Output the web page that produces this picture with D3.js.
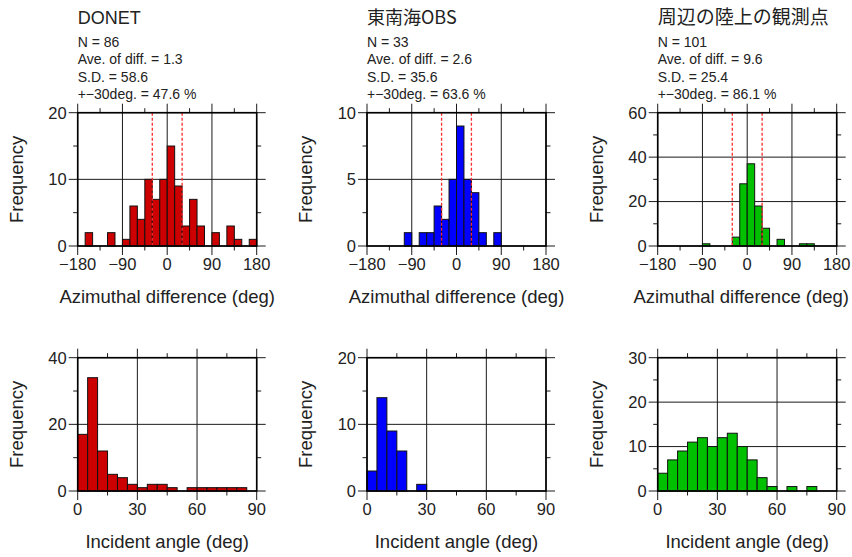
<!DOCTYPE html>
<html><head><meta charset="utf-8">
<script src="https://cdn.jsdelivr.net/npm/d3@7"></script>
<style>
html,body{margin:0;padding:0;background:#fff;}
svg{display:block;font-family:"Liberation Sans",Arial,Helvetica,sans-serif;}
.cjk{font-family:"Noto Sans CJK JP","Liberation Sans",sans-serif;}
</style></head>
<body>
<svg id="chart" width="852" height="557"></svg>
<script>
// ---- data ----
const stations = ["DONET", "東南海OBS", "周辺の陸上の観測点"];
const colors = ["#cc0000", "#0000ff", "#00c000"];
const nCounts = [86, 33, 101];
const aveDiff = ["1.3", "2.6", "9.6"];
const sdDiff = ["58.6", "35.6", "25.4"];
const within30 = ["47.6", "63.6", "86.1"];

// azimuthal difference: 15-degree bins starting at -180
const azBinStarts = d3.range(-180, 180, 15);
const azDonet    = [0,2,0,0,2,0,1,6,4,10,7,10,15,9,3,7,3,0,2,0,3,1,0,1];
const azTonankai = [0,0,0,0,0,1,0,1,1,3,2,5,9,5,4,1,0,1,0,0,0,0,0,0];
const azLand     = [0,0,0,0,0,0,1,0,0,0,4,28,37,18,8,0,3,0,0,1,1,0,0,0];
const azYMax = [20, 10, 60];
const azYMajor = [10, 5, 20];
const azXTicks = [-180, -90, 0, 90, 180];
const azXMinor = [-135, -45, 45, 135];
const azDashed = [-30, 30];

// incident angle: 5-degree bins starting at 0
const incBinStarts = d3.range(0, 90, 5);
const incDonet    = [17,34,12,5,4,2,1,2,2,1,0,1,1,1,1,1,1,0];
const incTonankai = [3,14,9,6,0,1,0,0,0,0,0,0,0,0,0,0,0,0];
const incLand     = [4,7,9,11,12,10,12,13,10,7,3,1,0,1,0,1,0,0];
const incYMax = [40, 20, 30];
const incYMajor = [20, 10, 10];
const incXTicks = [0, 30, 60, 90];
const incXMinor = [15, 45, 75];

// ---- layout ----
const svg = d3.select("#chart");
const W = 852;
const colLeft = [77.7, 367, 657.7];
const rowTop = [112.7, 357.7];
const pw = 179, ph = 133.3;
const majLen = 9, minLen = 4.5;

function panel(col, row, opts) {
  const L = colLeft[col], T = rowTop[row];
  const g = svg.append("g").attr("transform", `translate(${L},${T})`);
  const x = d3.scaleLinear().domain(opts.xDomain).range([0, pw]);
  const y = d3.scaleLinear().domain([0, opts.yMax]).range([ph, 0]);
  const yMajor = d3.range(0, opts.yMax + 1e-9, opts.yStep);
  const yMinor = d3.range(opts.yStep / 2, opts.yMax, opts.yStep);

  g.selectAll(".vg").data(opts.xTicks).join("line")
    .attr("x1", d => x(d)).attr("x2", d => x(d))
    .attr("y1", -majLen).attr("y2", ph + majLen)
    .attr("stroke", "#1a1a1a").attr("stroke-width", 1);
  g.selectAll(".hg").data(yMajor).join("line")
    .attr("y1", d => y(d)).attr("y2", d => y(d))
    .attr("x1", -majLen).attr("x2", pw + majLen)
    .attr("stroke", "#1a1a1a").attr("stroke-width", 1);
  const mt = g.append("g").attr("stroke", "#1a1a1a").attr("stroke-width", 1);
  opts.xMinor.forEach(d => {
    mt.append("line").attr("x1", x(d)).attr("x2", x(d)).attr("y1", -minLen).attr("y2", 0);
    mt.append("line").attr("x1", x(d)).attr("x2", x(d)).attr("y1", ph).attr("y2", ph + minLen);
  });
  yMinor.forEach(d => {
    mt.append("line").attr("y1", y(d)).attr("y2", y(d)).attr("x1", -minLen).attr("x2", 0);
    mt.append("line").attr("y1", y(d)).attr("y2", y(d)).attr("x1", pw).attr("x2", pw + minLen);
  });

  const data = opts.starts.map((s, i) => ({s, v: opts.counts[i]})).filter(d => d.v > 0);
  g.selectAll(".bar").data(data).join("rect")
    .attr("x", d => x(d.s)).attr("width", d => x(d.s + opts.bw) - x(d.s))
    .attr("y", d => y(d.v)).attr("height", d => y(0) - y(d.v))
    .attr("fill", opts.color).attr("stroke", "#111").attr("stroke-width", 1);

  if (opts.dashed) {
    g.selectAll(".dl").data(opts.dashed).join("line")
      .attr("x1", d => x(d)).attr("x2", d => x(d))
      .attr("y1", 0).attr("y2", ph)
      .attr("stroke", "#ff2a2a").attr("stroke-width", 1.3)
      .attr("stroke-dasharray", "3,2");
  }

  g.append("rect").attr("width", pw).attr("height", ph)
    .attr("fill", "none").attr("stroke", "#000").attr("stroke-width", 1.6);

  g.selectAll(".xl").data(opts.xTicks).join("text")
    .attr("x", d => x(d)).attr("y", ph + 24)
    .attr("text-anchor", "middle").attr("font-size", 16.5).attr("fill", "#222")
    .text(d => d < 0 ? "\u2212" + Math.abs(d) : d);
  g.selectAll(".yl").data(yMajor).join("text")
    .attr("x", -11).attr("y", d => y(d)).attr("dy", "0.36em")
    .attr("text-anchor", "end").attr("font-size", 16.5).attr("fill", "#222")
    .text(d => d);

  const xt = g.append("text").attr("y", ph + 57)
    .attr("font-size", 18.5).attr("fill", "#222")
    .text(opts.xTitle);
  const tw = xt.node().getComputedTextLength();
  // keep the title inside the page, otherwise centre it under the plot
  const cx = Math.min(pw / 2, (W - 3 - L) - tw / 2);
  xt.attr("x", cx).attr("text-anchor", "middle");

  g.append("text").attr("transform", `translate(-55,${ph / 2}) rotate(-90)`)
    .attr("text-anchor", "middle").attr("font-size", 18.5).attr("fill", "#222")
    .text("Frequency");
}

const azSets = [azDonet, azTonankai, azLand];
const incSets = [incDonet, incTonankai, incLand];
for (let c = 0; c < 3; c++) {
  panel(c, 0, {xDomain: [-180, 180], yMax: azYMax[c], yStep: azYMajor[c],
    xTicks: azXTicks, xMinor: azXMinor, starts: azBinStarts, counts: azSets[c], bw: 15,
    color: colors[c], dashed: azDashed, xTitle: "Azimuthal difference (deg)"});
  panel(c, 1, {xDomain: [0, 90], yMax: incYMax[c], yStep: incYMajor[c],
    xTicks: incXTicks, xMinor: incXMinor, starts: incBinStarts, counts: incSets[c], bw: 5,
    color: colors[c], xTitle: "Incident angle (deg)"});

  const L = colLeft[c];
  svg.append("text").attr("class", c > 0 ? "cjk" : null)
    .attr("x", L).attr("y", 23.5).attr("font-size", c === 2 ? 19 : 18).attr("fill", "#222")
    .text(stations[c]);
  const lines = [`N = ${nCounts[c]}`, `Ave. of diff. = ${aveDiff[c]}`,
                 `S.D. = ${sdDiff[c]}`, `+\u221230deg. = ${within30[c]} %`];
  svg.selectAll(null).data(lines).join("text")
    .attr("x", L).attr("y", (d, i) => 46.5 + i * 17.5)
    .attr("font-size", 14).attr("fill", "#222")
    .text(d => d);
}
</script>
</body></html>
